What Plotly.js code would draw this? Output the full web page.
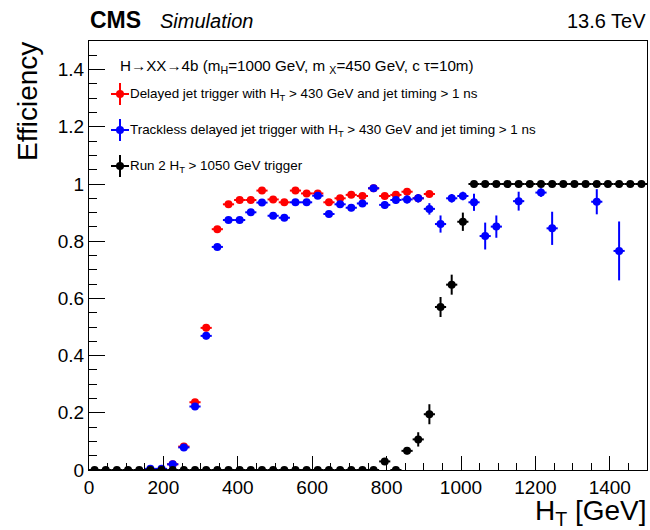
<!DOCTYPE html>
<html>
<head>
<meta charset="utf-8">
<script src="https://cdn.plot.ly/plotly-3.0.1.min.js"></script>
<style>html,body{margin:0;padding:0;background:#fff;} #plot{width:650px;height:530px;}</style>
</head>
<body>
<div id="plot"></div>
<script>
// ---- data ----
const redX = [225,255,285,315,345,375,405,435,465,495,525,555,585,615,645,675,705,735,765,795,825,855,885,915];
const redY = [0.02,0.082,0.237,0.497,0.842,0.929,0.944,0.944,0.977,0.946,0.936,0.977,0.967,0.967,0.936,0.95,0.962,0.958,0.985,0.958,0.962,0.973,0.95,0.965];
const redErr = [0.005,0.008,0.01,0.012,0.01,0.008,0.008,0.008,0.006,0.008,0.008,0.006,0.007,0.007,0.008,0.008,0.008,0.008,0.006,0.008,0.008,0.008,0.01,0.01];

const blueX = [165,195,225,255,285,315,345,375,405,435,465,495,525,555,585,615,645,675,705,735,765,795,825,855,885,915,945,975,1005,1035,1065,1095,1155,1215,1245,1365,1425];
const blueY = [0.004,0.004,0.02,0.079,0.222,0.469,0.78,0.874,0.874,0.901,0.935,0.889,0.882,0.936,0.936,0.959,0.895,0.929,0.917,0.932,0.985,0.927,0.944,0.946,0.95,0.913,0.86,0.95,0.958,0.936,0.818,0.851,0.94,0.97,0.845,0.938,0.766];
const blueErr = [0.002,0.002,0.005,0.008,0.01,0.012,0.01,0.009,0.009,0.009,0.008,0.01,0.01,0.009,0.009,0.008,0.011,0.011,0.012,0.012,0.008,0.013,0.013,0.014,0.015,0.02,0.03,0.015,0.015,0.03,0.047,0.039,0.033,0.015,0.058,0.044,0.103];

const blackX = [15,45,75,105,135,165,195,225,255,285,315,345,375,405,435,465,495,525,555,585,615,645,675,705,735,765,795,825,855,885,915,945,975,1005,1035,1065,1095,1125,1155,1185,1215,1245,1275,1305,1335,1365,1395,1425,1455,1485];
const blackY = [0,0,0,0,0,0,0,0,0,0,0,0,0,0,0,0,0,0,0,0,0,0,0,0,0,0,0.03,0,0.067,0.107,0.195,0.57,0.648,0.868,1,1,1,1,1,1,1,1,1,1,1,1,1,1,1,1];
const blackErr = [0,0,0,0,0,0,0,0,0,0,0,0,0,0,0,0,0,0,0,0,0,0,0,0,0,0,0.012,0,0.012,0.025,0.035,0.035,0.035,0.032,0,0,0,0,0,0,0,0,0,0,0,0,0,0,0,0];

const binHalfWidth = 15;
const xTickVals = [0,200,400,600,800,1000,1200,1400];
const yTickVals = [0,0.2,0.4,0.6,0.8,1,1.2,1.4];

const legendHeader = 'H\u2192XX\u21924b (m<sub>H</sub>=1000 GeV, m <sub>X</sub>=450 GeV, c \u03c4=10m)';
const seriesNames = [
  'Delayed jet trigger with H<sub>T</sub> > 430 GeV and jet timing > 1 ns',
  'Trackless delayed jet trigger with H<sub>T</sub> > 430 GeV and jet timing > 1 ns',
  'Run 2 H<sub>T</sub> > 1050 GeV trigger'
];
const seriesColors = ['#ff0000', '#0000ff', '#000000'];

// ---- layout geometry ----
const W = 650, H = 530;
const M = {l: 89, r: 3, t: 41, b: 60};
const PW = W - M.l - M.r, PH = H - M.t - M.b;
const px = v => (v - M.l) / PW;           // page pixel -> paper x
const py = v => (H - M.b - v) / PH;       // page pixel -> paper y
const FONT = 'Liberation Sans, Arial, Helvetica, sans-serif';

function trace(x, y, e, color) {
  return {
    type: 'scatter', mode: 'markers', x: x, y: y,
    marker: {color: color, size: 8, symbol: 'circle'},
    error_y: {type: 'data', array: e, visible: true, color: color, thickness: 2, width: 0},
    error_x: {type: 'constant', value: binHalfWidth, visible: true, color: color, thickness: 2, width: 0},
    showlegend: false, hoverinfo: 'skip', cliponaxis: true
  };
}

const data = [
  trace(redX, redY, redErr, seriesColors[0]),
  trace(blueX, blueY, blueErr, seriesColors[1]),
  trace(blackX, blackY, blackErr, seriesColors[2])
];

const annotations = [
  {text: '<b>CMS</b>', x: px(88), y: py(20), xref: 'paper', yref: 'paper', xanchor: 'left', yanchor: 'middle', showarrow: false, font: {family: FONT, size: 23, color: '#000'}},
  {text: '<i>Simulation</i>', x: px(158), y: py(21), xref: 'paper', yref: 'paper', xanchor: 'left', yanchor: 'middle', showarrow: false, font: {family: FONT, size: 20, color: '#000'}},
  {text: '13.6 TeV', x: px(648), y: py(21), xref: 'paper', yref: 'paper', xanchor: 'right', yanchor: 'middle', showarrow: false, font: {family: FONT, size: 20, color: '#000'}},
  {text: 'Efficiency', x: px(28), y: py(102), xref: 'paper', yref: 'paper', xanchor: 'center', yanchor: 'middle', textangle: -90, showarrow: false, font: {family: FONT, size: 28, color: '#000'}},
  {text: 'H<sub>T</sub> [GeV]', x: px(648), y: py(512), xref: 'paper', yref: 'paper', xanchor: 'right', yanchor: 'middle', borderpad: 0, showarrow: false, font: {family: FONT, size: 28, color: '#000'}},
  {text: legendHeader, x: px(118), y: py(67), xref: 'paper', yref: 'paper', xanchor: 'left', yanchor: 'middle', showarrow: false, font: {family: FONT, size: 15.2, color: '#000'}}
];
const legendY = [94, 130, 166];
const shapes = [];
for (let i = 0; i < 3; i++) {
  annotations.push({text: seriesNames[i], x: px(128), y: py(legendY[i]), xref: 'paper', yref: 'paper', xanchor: 'left', yanchor: 'middle', showarrow: false, font: {family: FONT, size: 13.4, color: '#000'}});
  const ax = px(120), ay = py(legendY[i]);
  shapes.push({type: 'line', xref: 'paper', yref: 'paper', xsizemode: 'pixel', ysizemode: 'pixel', xanchor: ax, yanchor: ay, x0: -9, x1: 9, y0: 0, y1: 0, line: {color: seriesColors[i], width: 2}});
  shapes.push({type: 'line', xref: 'paper', yref: 'paper', xsizemode: 'pixel', ysizemode: 'pixel', xanchor: ax, yanchor: ay, x0: 0, x1: 0, y0: -11, y1: 11, line: {color: seriesColors[i], width: 2}});
  shapes.push({type: 'circle', xref: 'paper', yref: 'paper', xsizemode: 'pixel', ysizemode: 'pixel', xanchor: ax, yanchor: ay, x0: -4, x1: 4, y0: -4, y1: 4, fillcolor: seriesColors[i], line: {width: 0}});
}

const layout = {
  width: W, height: H,
  margin: M,
  paper_bgcolor: '#fff', plot_bgcolor: '#fff',
  showlegend: false,
  font: {family: FONT, size: 19, color: '#000'},
  xaxis: {
    range: [0, 1500], showgrid: false, zeroline: false,
    showline: true, mirror: true, linecolor: '#000', linewidth: 1,
    ticks: 'inside', ticklen: 14, tickwidth: 1, tickcolor: '#000',
    tickmode: 'array', tickvals: xTickVals,
    minor: {dtick: 50, ticks: 'inside', ticklen: 7, tickwidth: 1, tickcolor: '#000', showgrid: false},
    tickfont: {family: FONT, size: 19, color: '#000'}
  },
  yaxis: {
    range: [0, 1.5], showgrid: false, zeroline: false,
    showline: true, mirror: true, linecolor: '#000', linewidth: 1,
    ticks: 'inside', ticklen: 16, tickwidth: 1, tickcolor: '#000',
    tickmode: 'array', tickvals: yTickVals,
    minor: {dtick: 0.05, ticks: 'inside', ticklen: 8, tickwidth: 1, tickcolor: '#000', showgrid: false},
    tickfont: {family: FONT, size: 19, color: '#000'}
  },
  annotations: annotations,
  shapes: shapes
};

Plotly.newPlot('plot', data, layout, {displayModeBar: false, staticPlot: true});
</script>
</body>
</html>
